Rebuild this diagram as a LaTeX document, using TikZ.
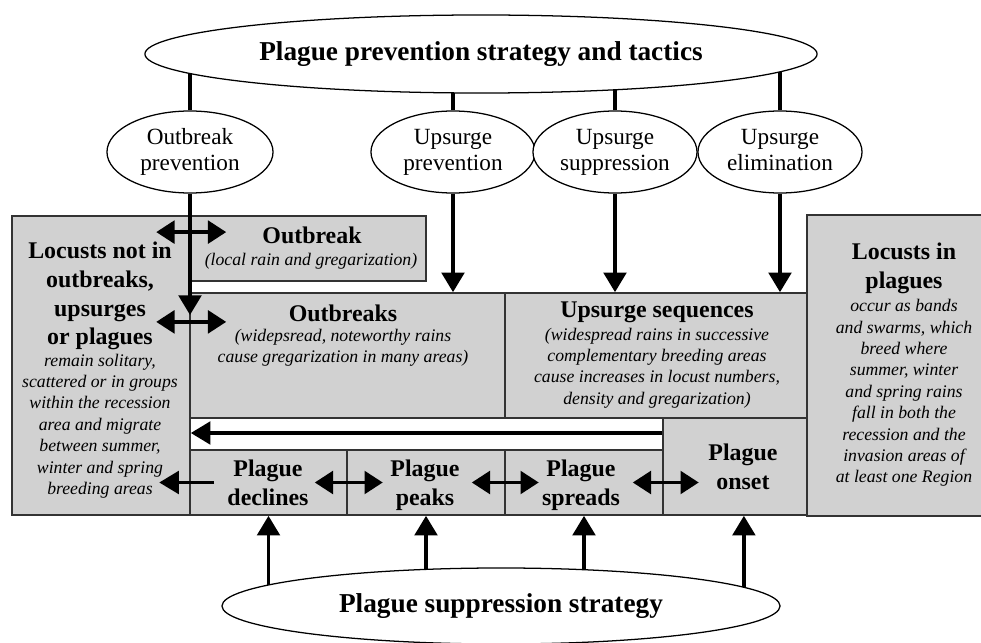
\documentclass[tikz,border=0pt]{standalone}
\usepackage{fontspec}
\setmainfont{Liberation Serif}
\usetikzlibrary{shapes.geometric,arrows.meta,fit,backgrounds}

\newcommand{\bigfont}{\fontsize{19.4}{23}\selectfont\bfseries}
\newcommand{\ovalfont}{\fontsize{16.5}{18.4}\selectfont}
\newcommand{\headfont}{\fontsize{17}{20.5}\selectfont\bfseries}
\newcommand{\notefont}{\fontsize{12.6}{15.2}\selectfont\itshape}

\begin{document}
\begin{tikzpicture}[x=0.025cm, y=-0.025cm,
  box/.style={draw=black!80, line width=1.1pt, fill=black!18, inner sep=0pt},
  oval/.style={ellipse, draw, line width=0.9pt, fill=white, inner sep=0pt, align=center},
  head/.style={font=\headfont, align=center},
  link/.style={line width=2.8pt},
  arrow/.style={link, -{Triangle[length=14pt, width=16pt]}},
  both/.style={link, {Triangle[length=13pt, width=16pt]}-{Triangle[length=13pt, width=16pt]}}]
  \useasboundingbox (0,0) rectangle (981,643);

  % Prevention: strategy and tactics
  \node[oval, font=\bigfont, minimum width=16.8cm, minimum height=1.95cm]
    (prevtop) at (481,54) {Plague prevention strategy and tactics};
  \node[oval, font=\ovalfont, minimum width=4.15cm, minimum height=2.05cm]
    (obprev) at (190,152) {Outbreak\\prevention};
  \node[oval, font=\ovalfont, minimum width=4.1cm, minimum height=2.05cm]
    (upprev) at (453,152) {Upsurge\\prevention};
  \node[oval, font=\ovalfont, minimum width=4.1cm, minimum height=2.05cm]
    (upsupp) at (615,152) {Upsurge\\suppression};
  \node[oval, font=\ovalfont, minimum width=4.1cm, minimum height=2.05cm]
    (upelim) at (780,152) {Upsurge\\elimination\vphantom{p}};

  % Suppression strategy
  \node[oval, font=\bigfont, minimum width=13.95cm, minimum height=1.9cm]
    (supp) at (501,606) {Plague suppression strategy};

  % Boxes
  \node[box, fit={(12,216) (190,515)}] (notin) {};
  \node[box, fit={(190,216) (426,281)}] (outbreak) {};
  \node[box, fit={(190,293) (505,418)}] (outbreaks) {};
  \node[box, fit={(505,293) (808,418)}] (upseq) {};
  \node[box, fit={(190,450) (347,515)}] (declines) {};
  \node[box, fit={(347,450) (505,515)}] (peaks) {};
  \node[box, fit={(505,450) (663,515)}] (spreads) {};
  \node[box, fit={(663,418) (808,515)}] (onset) {};
  % right box runs off the page
  \node[box, draw=none, fit={(808,216) (981,515)}] (inplague) {};
  \draw[black!80, line width=1.1pt] (inplague.north east) -- (inplague.north west)
    -- (inplague.south west) -- (inplague.south east);

  % Box texts
  \node[head] (notin-head) at (100,296)
    {Locusts not in\\outbreaks,\\upsurges\\or plagues};
  \node[font=\notefont, align=center] (notin-note) at (100,426)
    {remain solitary,\\scattered or in groups\\within the recession\\area and migrate\\between summer,\\winter and spring\\breeding areas};
  \node[head] (outbreak-head) at (312,235) {Outbreak};
  \node[font=\notefont] (outbreak-note) at (311,261) {(local rain and gregarization)};
  \node[head] (outbreaks-head) at (343,313) {Outbreaks};
  \node[font=\notefont, align=center] (outbreaks-note) at (343,348)
    {(widepsread, noteworthy rains\\cause gregarization in many areas)};
  \node[head] (upseq-head) at (657,312) {Upsurge sequences};
  \node[font=\notefont, align=center] (upseq-note) at (657,368)
    {(widespread rains in successive\\complementary breeding areas\\cause increases in locust numbers,\\density and gregarization)};
  \node[head] (inplague-head) at (904,268)
    {Locusts in\\plagues};
  \node[font=\notefont, align=center] (inplague-note) at (904,393)
    {occur as bands\\and swarms, which\\breed where\\summer, winter\\and spring rains\\fall in both the\\recession and the\\invasion areas of\\at least one Region};
  \node[head] (declines-txt) at (268,485) {Plague\\declines\vphantom{p}};
  \node[head] (peaks-txt) at (425,485) {Plague\\peaks};
  \node[head] (spreads-txt) at (581,485) {Plague\\spreads};
  \node[head] (onset-txt) at (743,469) {Plague\\onset\vphantom{p}};

  % Links behind the ellipses
  \begin{scope}[on background layer]
    \draw[link] (obprev.north) -- (obprev.north |- prevtop.center);
    \draw[link] (upprev.north) -- (upprev.north |- prevtop.center);
    \draw[link] (upsupp.north) -- (upsupp.north |- prevtop.center);
    \draw[link] (upelim.north) -- (upelim.north |- prevtop.center);
    \coordinate (onset-in) at ([xshift=0.21cm]onset.south);
    \draw[arrow] (declines.south |- supp.center) -- (declines.south);
    \draw[arrow] (peaks.south |- supp.center) -- (peaks.south);
    \draw[arrow] (spreads.south |- supp.center) -- (spreads.south);
    \draw[arrow] (onset-in |- supp.center) -- (onset-in);
  \end{scope}

  % Tactics down to the boxes
  \coordinate (obtip) at (190,315);
  \draw[arrow] (obprev.south) -- (obtip);
  \draw[arrow] (upprev.south) -- (upprev.south |- outbreaks.north);
  \draw[arrow] (upsupp.south) -- (upsupp.south |- upseq.north);
  \draw[arrow] (upelim.south) -- (upelim.south |- upseq.north);

  % Moves between states
  \draw[both] ([xshift=-0.825cm, yshift=0.41cm]outbreak.west) -- ++(1.75cm,0);
  \draw[both] ([xshift=-0.825cm, yshift=0.84cm]outbreaks.west) -- ++(1.75cm,0);
  \draw[both] ([xshift=-0.825cm]declines.east) -- ++(1.7cm,0);
  \draw[both] ([xshift=-0.85cm]peaks.east) -- ++(1.675cm,0);
  \draw[both] ([xshift=-0.775cm]spreads.east) -- ++(1.65cm,0);
  \draw[arrow] ([xshift=0.625cm]declines.west) -- ++(-1.375cm,0);
  \coordinate (back) at (0,433);
  \draw[arrow] (onset.west |- back) -- (notin.east |- back);
\end{tikzpicture}
\end{document}
